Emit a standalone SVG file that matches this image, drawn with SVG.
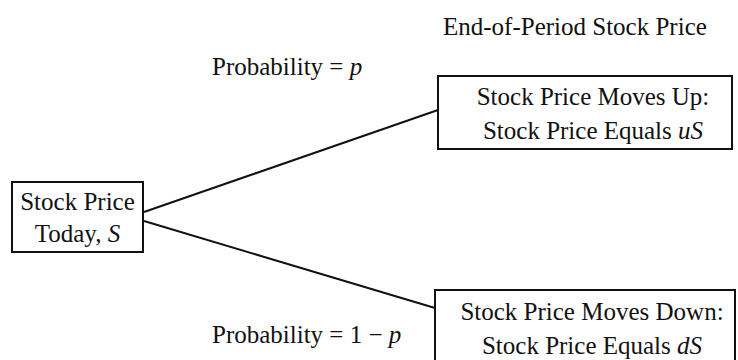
<svg xmlns="http://www.w3.org/2000/svg" width="738" height="360" viewBox="0 0 738 360">
<style>
text{font-family:"Liberation Serif","Times New Roman",serif;font-size:25px;fill:#111}
.box{fill:#fff;stroke:#111;stroke-width:2}
.c{text-anchor:middle}
.edge{stroke:#111;stroke-width:2;fill:none}
</style>
<rect width="738" height="360" fill="#fff"/>
<text x="443" y="35">End-of-Period Stock Price</text>
<g id="connectors">
<line class="edge" x1="144" y1="212" x2="438" y2="110"/>
<line class="edge" x1="144" y1="221" x2="435" y2="308"/>
</g>
<text x="212" y="75">Probability = <tspan font-style="italic">p</tspan></text>
<text x="212" y="343">Probability = 1 − <tspan font-style="italic">p</tspan></text>
<g id="today">
<rect class="box" x="12" y="182" width="131" height="70"/>
<text class="c" x="77.5" y="210">Stock Price</text>
<text class="c" x="77.5" y="242">Today, <tspan font-style="italic">S</tspan></text>
</g>
<g id="up">
<rect class="box" x="438" y="76" width="294" height="73"/>
<text class="c" x="593" y="105">Stock Price Moves Up:</text>
<text class="c" x="593" y="139">Stock Price Equals <tspan font-style="italic">uS</tspan></text>
</g>
<g id="down">
<rect class="box" x="435" y="290" width="300" height="80"/>
<text class="c" x="592" y="320">Stock Price Moves Down:</text>
<text class="c" x="592" y="354">Stock Price Equals <tspan font-style="italic">dS</tspan></text>
</g>
</svg>
